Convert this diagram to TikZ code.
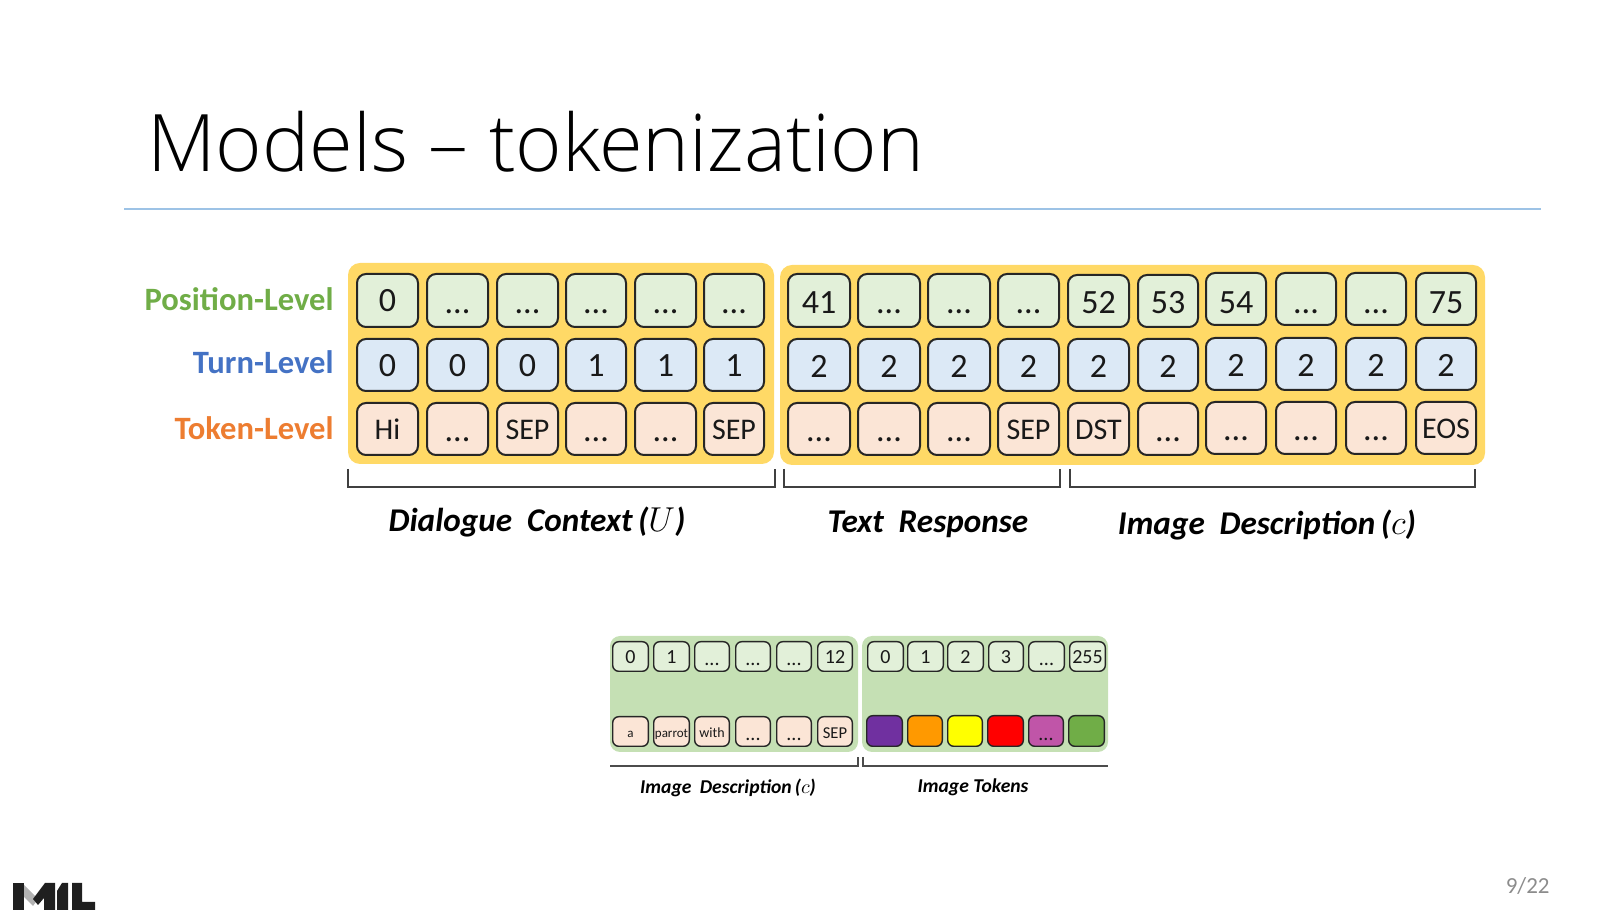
\documentclass[tikz,border=0pt]{standalone}
\usepackage{fontspec}
\setmainfont{Carlito}
\newfontfamily\titlefont{Open Sans Light}
\definecolor{cgreen}{HTML}{E2F0D9}
\definecolor{cblue}{HTML}{DCE9F6}
\definecolor{corange}{HTML}{FBE5D6}
\definecolor{panelY}{HTML}{FFD966}
\definecolor{panelG}{HTML}{C5E0B4}
\definecolor{rule}{HTML}{9DC3E6}
\newcommand\dd{\raisebox{-1pt}{...}}
% name, x1, x2, y1, y2, style, text
\newcommand\cellbox[7]{\node[#6,minimum width={(#3-#2)*0.5pt-1pt},minimum height={(#5-#4)*0.5pt-1pt}] (#1) at ({(#2+#3)/2},{(#4+#5)/2}) {#7};}
\newcommand\smallbox[7]{\node[#6,minimum width={(#3-#2)*0.5pt-.7pt},minimum height={(#5-#4)*0.5pt-.7pt}] (#1) at ({(#2+#3)/2},{(#4+#5)/2}) {#7};}
\newcommand\panel[6]{\node[#6,minimum width={(#3-#2)*0.5pt},minimum height={(#5-#4)*0.5pt}] (#1) at ({(#2+#3)/2},{(#4+#5)/2}) {};}
\tikzset{
  base/.style={rectangle,draw=black!85,line width=1pt,inner sep=0pt,outer sep=0pt,align=center,text=black!90},
  bigcell/.style={base,rounded corners=4.5pt,font=\fontsize{17}{17}\selectfont,text height=11pt,text depth=0pt},
  wordcell/.style={bigcell,font=\fontsize{15}{15}\selectfont,text height=11pt},
  smallcell/.style={base,line width=.7pt,rounded corners=3pt,font=\fontsize{10}{10}\selectfont,text height=7.5pt,text depth=0pt},
  tinycell/.style={smallcell,font=\fontsize{6.5}{6.5}\selectfont,text height=6pt},
  yellowpanel/.style={rectangle,fill=panelY,rounded corners=6pt,inner sep=0pt,outer sep=0pt},
  greenpanel/.style={rectangle,fill=panelG,rounded corners=5pt,inner sep=0pt,outer sep=0pt},
  rowlabel/.style={anchor=east,inner sep=0pt,font=\fontsize{16.3}{16.3}\selectfont\bfseries},
  caption/.style={inner sep=0pt,font=\fontsize{16.6}{16.6}\selectfont\bfseries\itshape,text=black},
  smallcaption/.style={inner sep=0pt,font=\fontsize{9.8}{9.8}\selectfont\bfseries\itshape,text=black},
  bracketline/.style={draw=black!75,line width=.8pt},
  smallbracket/.style={draw=black!70,line width=.55pt},
}
\begin{document}
\begin{tikzpicture}[x=0.5pt,y=-0.5pt]
\useasboundingbox (0,0) rectangle (1603,924);
% title
\node[anchor=base west,inner sep=0pt,font=\titlefont\fontsize{39.7}{39.7}\selectfont] (title) at (147,172) {Models – tokenization};
\coordinate (ruleL) at (124,209); \coordinate (ruleR) at (1541,209);
\draw[rule,line width=.6pt] (ruleL) -- (ruleR);
% panels
\panel{pA}{348}{774}{263}{464}{yellowpanel}
\panel{pB}{780}{1485}{265}{465}{yellowpanel}
% row labels
\node[rowlabel,text={rgb,255:red,112;green,173;blue,71}] (lp) at (334,299) {Position-Level};
\node[rowlabel,text={rgb,255:red,68;green,114;blue,196}] (lt) at (334,362) {Turn-Level};
\node[rowlabel,text={rgb,255:red,237;green,125;blue,49}] (lk) at (334,428) {Token-Level};
% left block
\foreach \a/\b/\t [count=\i] in {356/419/0,426/489/\dd,496/559/\dd,565/627/\dd,634/697/\dd,703/765/\dd}
  {\cellbox{a1\i}{\a}{\b}{273}{328}{bigcell,fill=cgreen}{\t}}
\foreach \a/\b/\t [count=\i] in {356/419/0,426/489/0,496/559/0,565/627/1,634/697/1,703/765/1}
  {\cellbox{a2\i}{\a}{\b}{338}{392}{bigcell,text height=12pt,fill=cblue}{\t}}
\foreach \a/\b/\t/\s [count=\i] in {356/419/Hi/wordcell,426/489/\dd/bigcell,496/559/SEP/wordcell,565/627/\dd/bigcell,634/697/\dd/bigcell,703/765/SEP/wordcell}
  {\cellbox{a3\i}{\a}{\b}{402}{456}{\s,fill=corange}{\t}}
% right block
\foreach \a/\b/\t/\u/\v/\h [count=\i] in {787/851/41/273/328/13pt,857/921/\dd/273/328/11pt,927/991/\dd/273/328/11pt,997/1060/\dd/273/328/11pt,1067/1130/52/274/328/13pt,1137/1199/53/274/328/13pt,1205/1267/54/272/326/15pt,1275/1337/\dd/272/326/13pt,1345/1407/\dd/272/326/13pt,1415/1477/75/272/326/15pt}
  {\cellbox{b1\i}{\a}{\b}{\u}{\v}{bigcell,text height=\h,fill=cgreen}{\t}}
\foreach \a/\b/\u/\v [count=\i] in {787/851/338/392,857/921/338/392,927/991/338/392,997/1060/338/392,1067/1130/338/392,1137/1199/338/392,1205/1267/337/391,1275/1337/337/391,1345/1407/337/391,1415/1477/337/391}
  {\cellbox{b2\i}{\a}{\b}{\u}{\v}{bigcell,text height=13pt,fill=cblue}{2}}
\foreach \a/\b/\t/\u/\v/\s [count=\i] in {787/851/\dd/402/456/bigcell,857/921/\dd/402/456/bigcell,927/991/\dd/402/456/bigcell,997/1060/SEP/402/456/wordcell,1067/1130/DST/402/456/wordcell,1137/1199/\dd/402/456/bigcell,1205/1267/\dd/401/455/bigcell,1275/1337/\dd/401/455/bigcell,1345/1407/\dd/401/455/bigcell,1415/1477/EOS/401/455/wordcell}
  {\cellbox{b3\i}{\a}{\b}{\u}{\v}{\s,fill=corange}{\t}}
% brackets
\coordinate (ba1) at (348,469); \coordinate (ba2) at (348,487); \coordinate (ba3) at (775,487); \coordinate (ba4) at (775,469);
\draw[bracketline] (ba1) -- (ba2) -- (ba3) -- (ba4);
\coordinate (bb1) at (784,469); \coordinate (bb2) at (784,487); \coordinate (bb3) at (1060,487); \coordinate (bb4) at (1060,469);
\draw[bracketline] (bb1) -- (bb2) -- (bb3) -- (bb4);
\coordinate (bc1) at (1070,469); \coordinate (bc2) at (1070,487); \coordinate (bc3) at (1475,487); \coordinate (bc4) at (1475,469);
\draw[bracketline] (bc1) -- (bc2) -- (bc3) -- (bc4);
% captions
\node[caption] (capA) at (537,522) {Dialogue\hspace{.22em} Context\,($U$)};
\node[caption] (capB) at (928,524) {Text\hspace{.22em} Response};
\node[caption] (capC) at (1267,525) {Image\hspace{.22em} Description\,($c$)};
% small panels
\panel{pC}{610}{858}{636}{752}{greenpanel}
\panel{pD}{862}{1108}{636}{752}{greenpanel}
\foreach \a/\b/\t [count=\i] in {612/649/0,653/690/1,694/730/\dd,735/771/\dd,776/812/\dd,817/853/12}
  {\smallbox{c1\i}{\a}{\b}{641}{672}{smallcell,fill=cgreen}{\t}}
\smallbox{c21}{612}{649}{716}{747}{tinycell,fill=corange}{a}
\smallbox{c22}{653}{690}{716}{747}{tinycell,fill=corange}{parrot}
\smallbox{c23}{694}{730}{716}{747}{tinycell,font=\fontsize{7}{7}\selectfont,fill=corange}{with}
\foreach \a/\b/\t [count=\i from 4] in {735/771/\dd,776/812/\dd}
  {\smallbox{c2\i}{\a}{\b}{716}{747}{smallcell,fill=corange}{\t}}
\smallbox{c26}{817}{853}{716}{747}{smallcell,font=\fontsize{8.3}{8.3}\selectfont,fill=corange}{SEP}
\foreach \a/\b/\t [count=\i] in {867/904/0,907/944/1,947/984/2,988/1024/3,1028/1065/\dd,1069/1106/255}
  {\smallbox{d1\i}{\a}{\b}{641}{672}{smallcell,fill=cgreen}{\t}}
\foreach \a/\b/\c/\t [count=\i] in {866/903/7030A0/,907/943/FF9900/,947/983/FFFF00/,987/1024/FF0000/,1028/1064/C055A8/\dd,1068/1105/70AD47/}
  {\definecolor{tk}{HTML}{\c}\smallbox{d2\i}{\a}{\b}{715}{747}{smallcell,fill=tk}{\t}}
% small brackets
\coordinate (bd1) at (610,766); \coordinate (bd2) at (858,766); \coordinate (bd3) at (858,757);
\draw[smallbracket] (bd1) -- (bd2) -- (bd3);
\coordinate (be1) at (863,757); \coordinate (be2) at (863,766); \coordinate (be3) at (1108,766);
\draw[smallbracket] (be1) -- (be2) -- (be3);
\node[smallcaption] (capD) at (728,788) {Image\hspace{.2em} Description\,($c$)};
\node[smallcaption] (capE) at (973,787) {Image Tokens};
% page number
\node[anchor=east,inner sep=0pt,text=black!45,font=\fontsize{11.5}{11.5}\selectfont] (pg) at (1550,886) {9/22};
% logo
\fill[black!88] (13,883) -- (24,883) -- (24,910) -- (13,910) -- cycle;
\fill[black!30] (24,885) -- (38,899) -- (33,906) -- (24,897) -- cycle;
\fill[black!88] (33,899) -- (45,883) -- (55,883) -- (55,910) -- (44,910) -- (44,898) -- (38,905) -- cycle;
\fill[black!88] (57,891) -- (62,883) -- (68,883) -- (68,910) -- (57,910) -- cycle;
\fill[black!88] (72,883) -- (82,883) -- (82,902) -- (95,902) -- (95,910) -- (72,910) -- cycle;
\end{tikzpicture}
\end{document}
